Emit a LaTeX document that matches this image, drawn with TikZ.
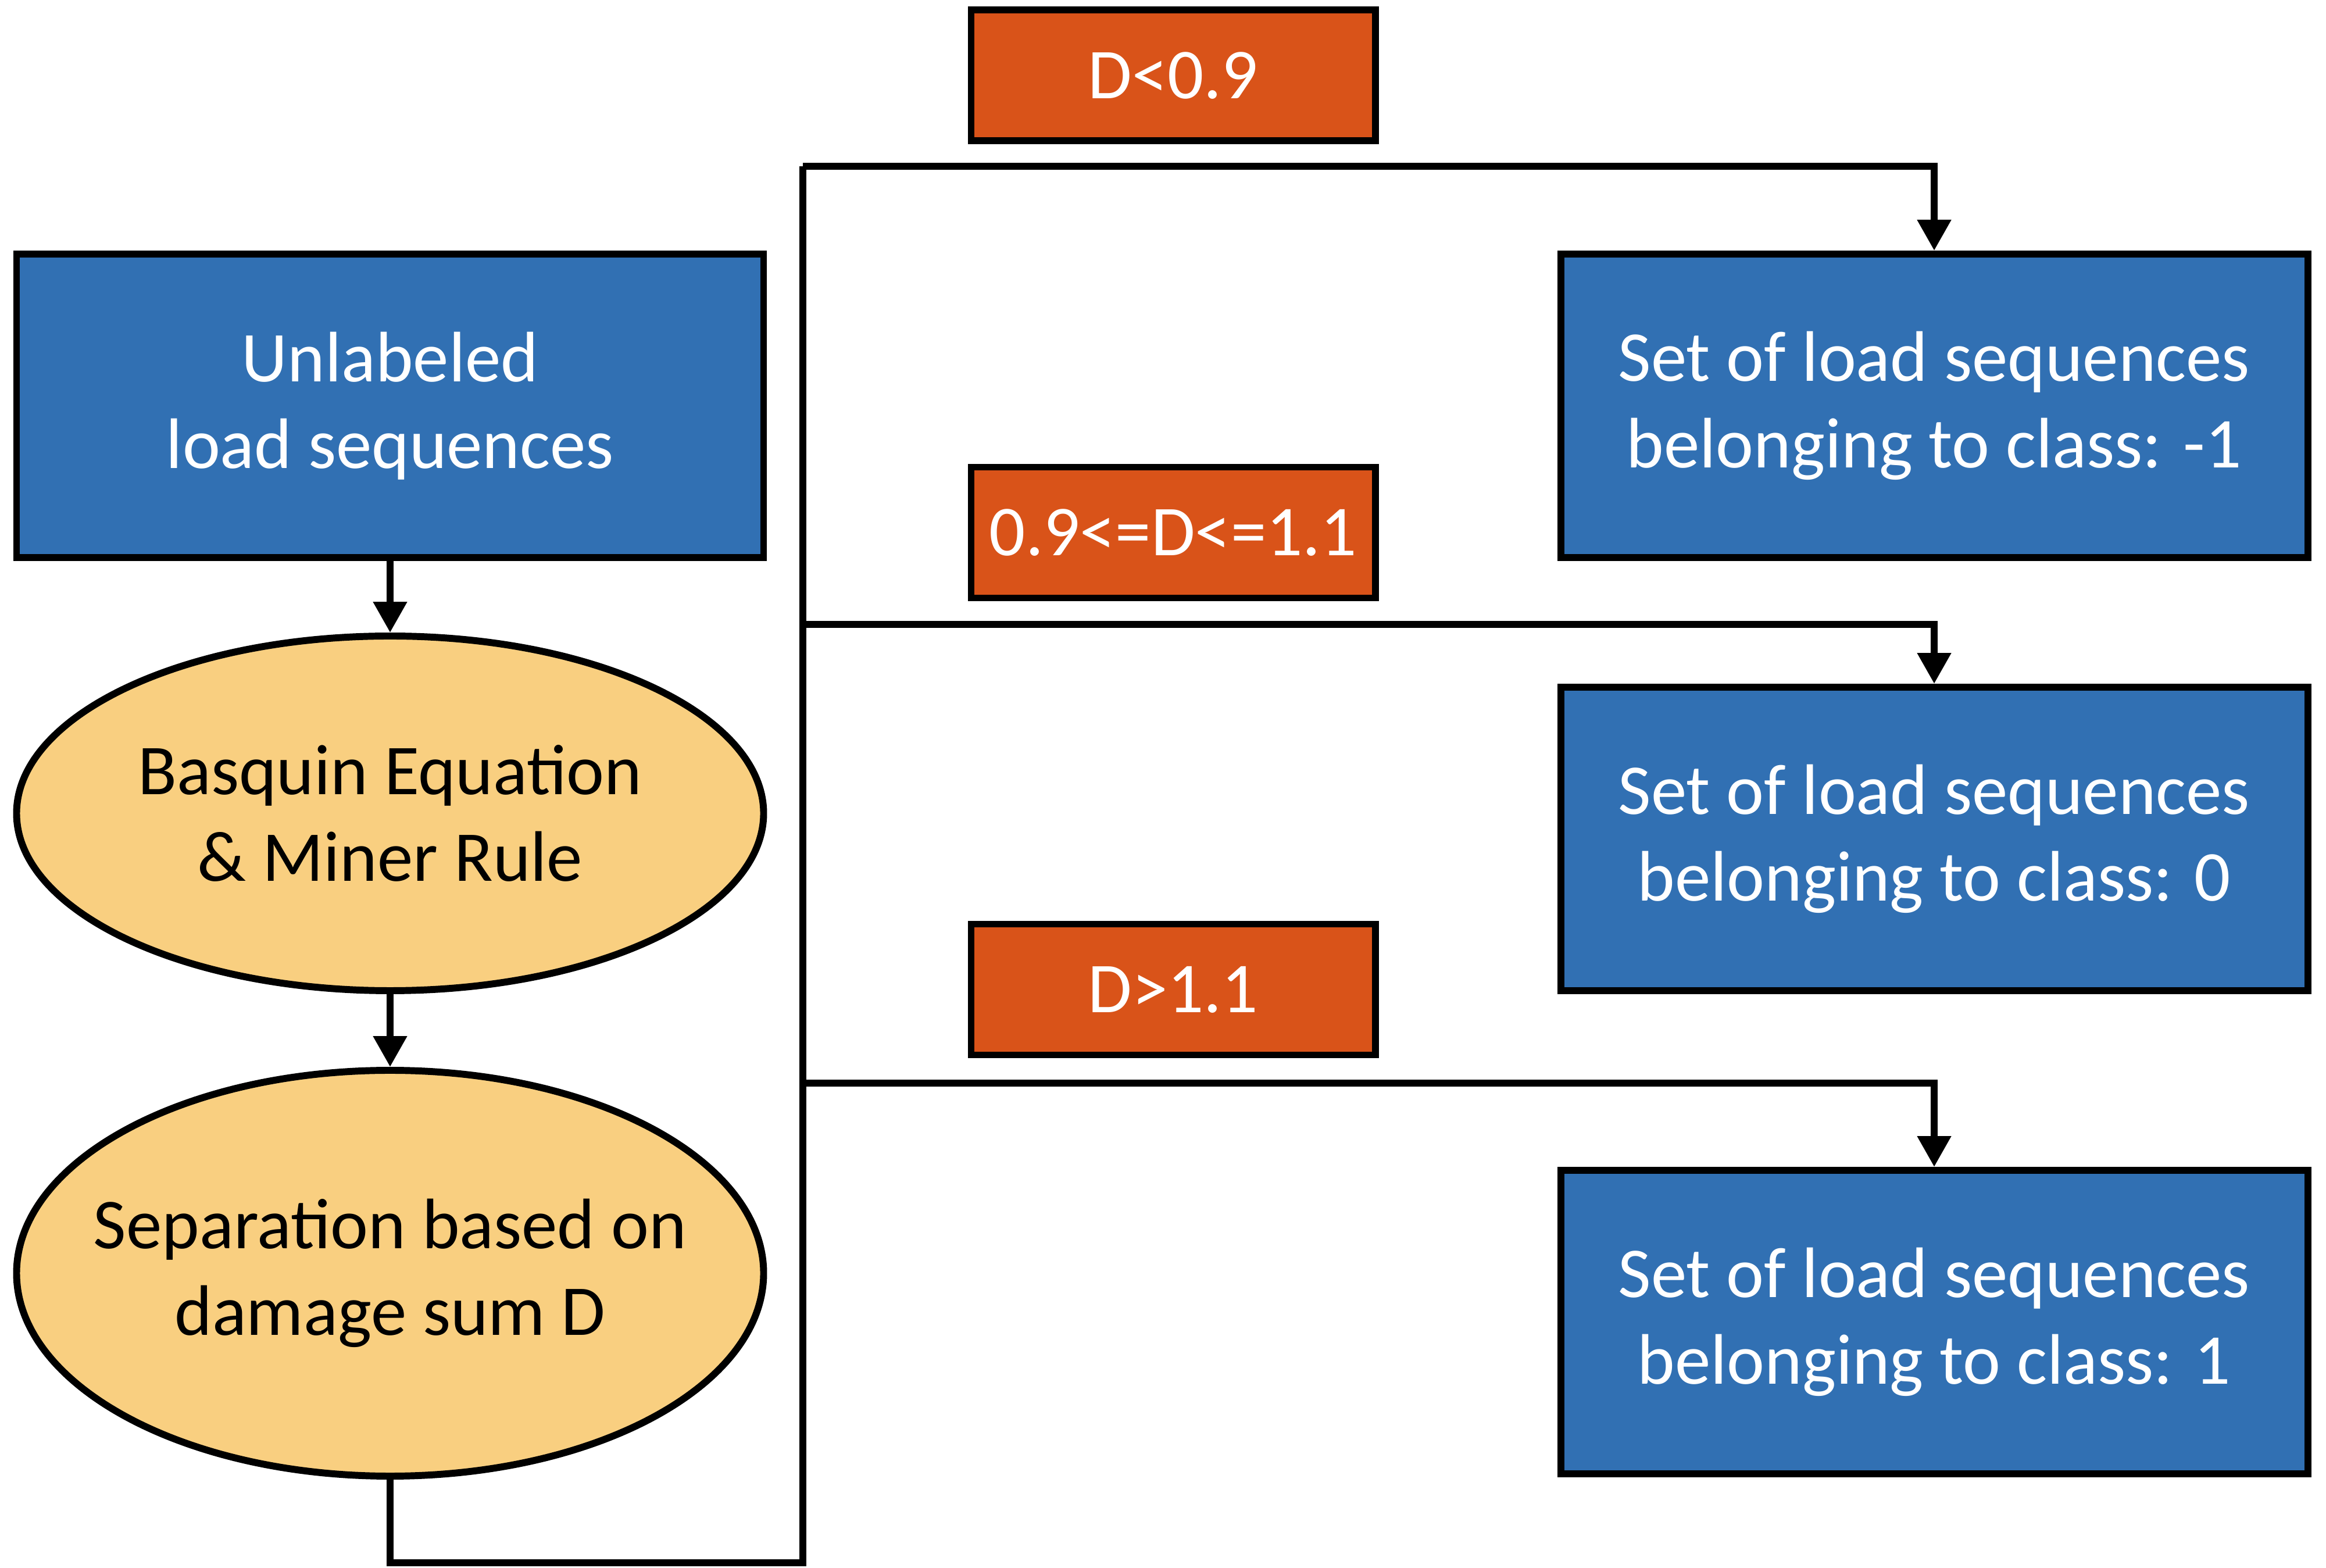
\documentclass[tikz,border=0pt]{standalone}
\usepackage{fontspec}
\setmainfont{Carlito}
\usepackage{tikz}
\usetikzlibrary{arrows.meta,shapes.geometric}
\definecolor{boxblue}{RGB}{49,112,179}
\definecolor{tagorange}{RGB}{217,83,25}
\definecolor{ovalyellow}{RGB}{249,207,128}

\begin{document}
\begin{tikzpicture}[
    bigfont/.style={font=\fontsize{35}{42.5}\selectfont},
    setbox/.style={draw=black,line width=3.4pt,fill=boxblue,text=white,bigfont,align=center,
                   minimum width=12.85cm,minimum height=5.22cm,inner sep=0pt},
    oval/.style={ellipse,draw=black,line width=3.4pt,fill=ovalyellow,bigfont,align=center,
                 inner xsep=-2cm,inner ysep=-1cm,minimum width=12.85cm},
    tag/.style={draw=black,line width=3.4pt,fill=tagorange,text=white,bigfont,
                minimum width=6.95cm,minimum height=2.25cm,inner sep=0pt},
    conn/.style={line width=3.2pt,line join=miter},
    arr/.style={conn,-{Triangle[length=0.53cm,width=0.56cm]}}
  ]
  \useasboundingbox (0,0) rectangle (40.01,26.96);
  % left column
  \node[setbox](lds)at(6.71,19.98){Unlabeled\\load sequences};
  \node[oval,minimum height=6.1cm](bas)at(6.71,12.97){Basquin Equation\\\& Miner Rule};
  \node[oval,minimum height=6.98cm](sep)at(6.71,5.06){Separation based on\\damage sum D};
  \draw[arr] (lds) -- (bas);
  \draw[arr] (bas) -- (sep);
  % classes
  \node[setbox](cls1)at(33.27,19.98){Set of load sequences\\belonging to class: -1};
  \node[setbox](cls2)at(33.27,12.53){Set of load sequences\\belonging to class: 0};
  \node[setbox](cls3)at(33.27,4.22){Set of load sequences\\belonging to class: 1};
  \node[tag](t1)at(20.18,25.66){D<0.9};
  \node[tag](t2)at(20.18,17.80){0.9<=D<=1.1};
  \node[tag](t3)at(20.18,9.94){D>1.1};
  % bus
  \coordinate (bb) at (13.81,0.08);
  \coordinate (bt) at (13.81,24.10);
  \coordinate (j2) at (13.81,16.22);
  \coordinate (j3) at (13.81,8.33);
  \draw[conn] (sep.south) |- (bb) -- (bt);
  \draw[arr] (bt) -| (cls1.north);
  \draw[arr] (j2) -| (cls2.north);
  \draw[arr] (j3) -| (cls3.north);
\end{tikzpicture}
\end{document}
